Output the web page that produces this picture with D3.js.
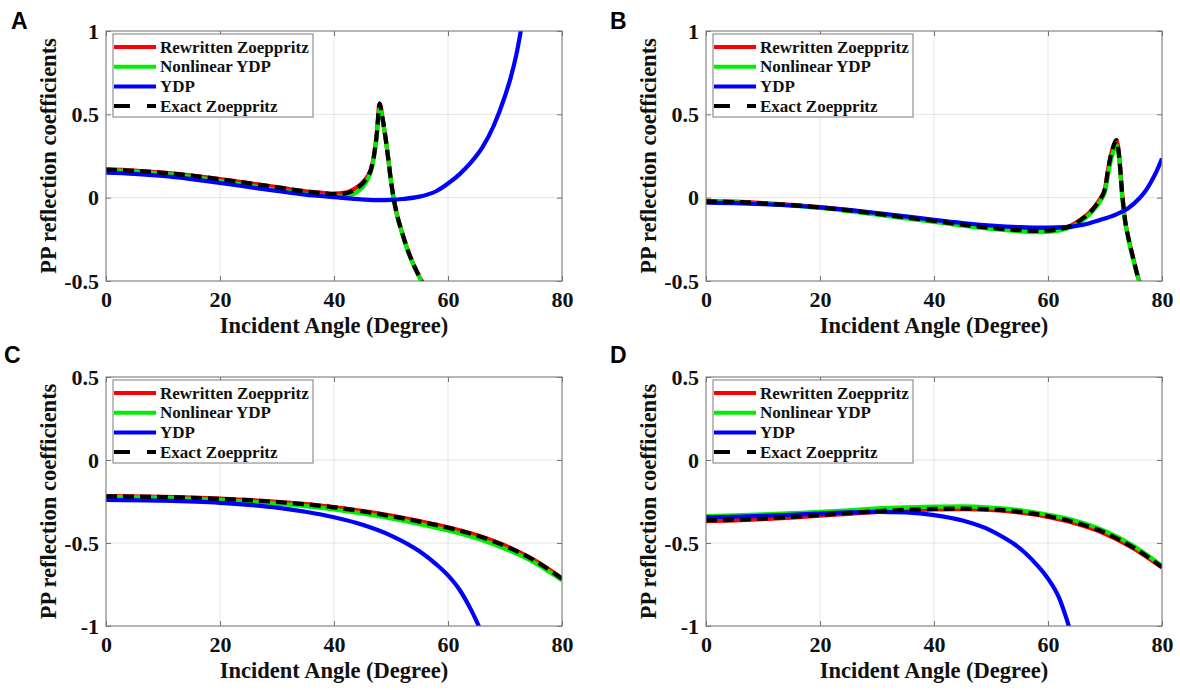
<!DOCTYPE html>
<html><head><meta charset="utf-8">
<script src="https://cdn.jsdelivr.net/npm/d3@7"></script>
<style>body{margin:0;background:#fff}</style>
</head><body><svg id="c" width="1180" height="690"></svg>
<script>
// ---------- data ----------
const seriesNames = ["Rewritten Zoeppritz", "Nonlinear YDP", "YDP", "Exact Zoeppritz"];
const panelLabels = ["A", "B", "C", "D"];
const xTicks = [0, 20, 40, 60, 80];
const yTicksTop = [-0.5, 0, 0.5, 1];
const yTicksBottom = [-1, -0.5, 0, 0.5];
const xLabel = "Incident Angle (Degree)";
const yLabel = "PP reflection coefficients";

// Panel A
const anglesA = [0,5,10,15,20,25,30,35,38,40,42,43,44,45,46,46.5,47,47.5,48,48.5,49,49.5,50,50.5,51,52,53,54,55,56];
const rewrittenA = [0.170,0.163,0.150,0.133,0.112,0.088,0.063,0.038,0.029,0.024,0.030,0.042,0.062,0.090,0.135,0.175,0.25,0.38,0.565,0.48,0.37,0.24,0.10,-0.01,-0.094,-0.215,-0.32,-0.405,-0.475,-0.54];
const nonlinearA = [0.165,0.157,0.143,0.125,0.100,0.073,0.046,0.022,0.011,0.006,0.008,0.015,0.032,0.062,0.115,0.16,0.24,0.37,0.53,0.47,0.365,0.235,0.095,-0.015,-0.10,-0.22,-0.325,-0.41,-0.48,-0.545];
const exactA = [0.168,0.161,0.149,0.132,0.111,0.087,0.062,0.037,0.027,0.022,0.026,0.036,0.056,0.085,0.13,0.17,0.25,0.38,0.565,0.48,0.37,0.24,0.10,-0.01,-0.094,-0.215,-0.32,-0.405,-0.475,-0.54];
const anglesYdpA = [0,5,10,15,20,25,30,35,40,45,48,50,52,55,58,60,62,64,66,68,70,71,72,73,74];
const ydpA = [0.150,0.143,0.130,0.111,0.089,0.064,0.040,0.018,0.003,-0.011,-0.015,-0.013,-0.008,0.006,0.040,0.085,0.14,0.21,0.30,0.43,0.61,0.72,0.86,1.04,1.2];

// Panel B
const anglesB = [0,5,10,15,20,25,30,35,40,45,50,55,58,60,62,64,66,67,68,69,70,70.5,71,71.5,72,72.5,73,73.5,74,74.5,75,75.5,76,76.5];
const rewrittenB = [-0.020,-0.024,-0.032,-0.043,-0.057,-0.075,-0.095,-0.117,-0.138,-0.160,-0.180,-0.193,-0.197,-0.196,-0.187,-0.168,-0.125,-0.098,-0.062,-0.015,0.055,0.16,0.25,0.31,0.345,0.245,0.03,-0.13,-0.225,-0.30,-0.37,-0.44,-0.50,-0.56];
const nonlinearB = [-0.025,-0.028,-0.036,-0.048,-0.062,-0.081,-0.102,-0.124,-0.146,-0.168,-0.188,-0.202,-0.207,-0.205,-0.196,-0.178,-0.138,-0.11,-0.075,-0.03,0.035,0.13,0.22,0.28,0.315,0.225,0.01,-0.14,-0.23,-0.31,-0.38,-0.445,-0.505,-0.565];
const exactB = [-0.022,-0.026,-0.034,-0.045,-0.059,-0.077,-0.097,-0.119,-0.140,-0.162,-0.182,-0.195,-0.199,-0.198,-0.189,-0.170,-0.127,-0.100,-0.064,-0.017,0.053,0.16,0.25,0.31,0.345,0.245,0.03,-0.13,-0.225,-0.30,-0.37,-0.44,-0.50,-0.56];
const anglesYdpB = [0,5,10,15,20,25,30,35,40,45,50,55,60,63,66,69,72,74,76,77,78,79,80];
const ydpB = [-0.030,-0.033,-0.039,-0.047,-0.058,-0.073,-0.092,-0.112,-0.133,-0.152,-0.167,-0.177,-0.180,-0.177,-0.163,-0.135,-0.10,-0.065,-0.005,0.035,0.09,0.155,0.235];

// Panel C
const anglesC = [0,10,20,30,40,50,55,60,65,70,75,80];
const rewrittenC = [-0.218,-0.222,-0.233,-0.252,-0.283,-0.335,-0.368,-0.405,-0.452,-0.515,-0.600,-0.712];
const nonlinearC = [-0.222,-0.228,-0.242,-0.263,-0.298,-0.352,-0.386,-0.425,-0.472,-0.535,-0.615,-0.725];
const exactC = [-0.219,-0.223,-0.234,-0.253,-0.285,-0.338,-0.371,-0.408,-0.455,-0.518,-0.602,-0.715];
const anglesYdpC = [0,10,20,25,30,35,40,45,50,55,58,60,62,64,65,66];
const ydpC = [-0.240,-0.245,-0.258,-0.270,-0.287,-0.312,-0.345,-0.39,-0.455,-0.55,-0.63,-0.695,-0.78,-0.90,-0.97,-1.05];

// Panel D
const anglesD = [0,5,10,15,20,25,30,35,40,45,50,55,60,65,70,75,80];
const rewrittenD = [-0.368,-0.364,-0.357,-0.347,-0.336,-0.324,-0.312,-0.303,-0.298,-0.296,-0.301,-0.316,-0.343,-0.384,-0.444,-0.533,-0.648];
const nonlinearD = [-0.338,-0.333,-0.327,-0.320,-0.313,-0.303,-0.292,-0.285,-0.281,-0.279,-0.286,-0.302,-0.330,-0.367,-0.427,-0.517,-0.638];
const exactD = [-0.364,-0.360,-0.353,-0.343,-0.332,-0.320,-0.308,-0.300,-0.295,-0.293,-0.298,-0.312,-0.338,-0.378,-0.438,-0.528,-0.645];
const anglesYdpD = [0,5,10,15,20,25,30,35,40,45,50,52,54,56,58,60,62,63,64];
const ydpD = [-0.345,-0.342,-0.337,-0.330,-0.323,-0.316,-0.312,-0.316,-0.332,-0.365,-0.425,-0.462,-0.505,-0.56,-0.63,-0.715,-0.835,-0.93,-1.04];

// ---------- layout / style ----------
const colors = ["#ff0000", "#00ee00", "#0000ff", "#000000"];
const serif = "'Liberation Serif','Times New Roman',serif";

const panels = [
  {label: panelLabels[0], lx: 11, ly: 29, left: 106, top: 31, right: 562, bottom: 281, yDomain: [-0.5, 1], yTicks: yTicksTop,
   series: [[anglesA, rewrittenA], [anglesA, nonlinearA], [anglesYdpA, ydpA], [anglesA, exactA]]},
  {label: panelLabels[1], lx: 610, ly: 29, left: 706, top: 31, right: 1162, bottom: 281, yDomain: [-0.5, 1], yTicks: yTicksTop,
   series: [[anglesB, rewrittenB], [anglesB, nonlinearB], [anglesYdpB, ydpB], [anglesB, exactB]]},
  {label: panelLabels[2], lx: 4, ly: 363, left: 106, top: 377, right: 562, bottom: 626, yDomain: [-1, 0.5], yTicks: yTicksBottom,
   series: [[anglesC, rewrittenC], [anglesC, nonlinearC], [anglesYdpC, ydpC], [anglesC, exactC]]},
  {label: panelLabels[3], lx: 610, ly: 363, left: 706, top: 377, right: 1162, bottom: 626, yDomain: [-1, 0.5], yTicks: yTicksBottom,
   series: [[anglesD, rewrittenD], [anglesD, nonlinearD], [anglesYdpD, ydpD], [anglesD, exactD]]}
];

const svg = d3.select("#c");
svg.append("rect").attr("width", 1180).attr("height", 690).attr("fill", "#fff");

panels.forEach((p, pi) => {
  const x = d3.scaleLinear().domain([0, 80]).range([p.left, p.right]);
  const y = d3.scaleLinear().domain(p.yDomain).range([p.bottom, p.top]);
  const g = svg.append("g");

  // panel letter
  svg.append("text").attr("x", p.lx).attr("y", p.ly)
    .attr("font-family", "'Liberation Sans',Arial,sans-serif").attr("font-weight", "bold")
    .attr("font-size", 23).attr("fill", "#000").text(p.label);

  // grid
  g.append("g").selectAll("line").data(xTicks).join("line")
    .attr("x1", d => x(d)).attr("x2", d => x(d)).attr("y1", p.top).attr("y2", p.bottom)
    .attr("stroke", "#e4e4e4").attr("stroke-width", 1);
  g.append("g").selectAll("line").data(p.yTicks).join("line")
    .attr("y1", d => y(d)).attr("y2", d => y(d)).attr("x1", p.left).attr("x2", p.right)
    .attr("stroke", "#e4e4e4").attr("stroke-width", 1);

  // curves
  const clipId = "clip" + pi;
  svg.append("clipPath").attr("id", clipId).append("rect")
    .attr("x", p.left).attr("y", p.top).attr("width", p.right - p.left).attr("height", p.bottom - p.top);
  const line = d3.line().x(d => x(d[0])).y(d => y(d[1])).curve(d3.curveMonotoneX);
  const cg = g.append("g").attr("clip-path", `url(#${clipId})`);
  p.series.forEach((s, si) => {
    const pts = s[0].map((a, i) => [a, s[1][i]]);
    cg.append("path").datum(pts).attr("d", line).attr("fill", "none")
      .attr("stroke", colors[si]).attr("stroke-width", 4.2)
      .attr("stroke-linejoin", "round")
      .attr("stroke-dasharray", si === 3 ? "11,6" : null);
  });

  // axes (ticks inward)
  const fontAttrs = sel => sel.selectAll("text").attr("font-family", serif).attr("font-weight", "bold")
    .attr("font-size", 22).attr("fill", "#111");
  const ax = g.append("g").attr("transform", `translate(0,${p.bottom})`)
    .call(d3.axisBottom(x).tickValues(xTicks).tickSize(-5).tickPadding(10).tickFormat(d3.format("d")));
  fontAttrs(ax);
  const ay = g.append("g").attr("transform", `translate(${p.left},0)`)
    .call(d3.axisLeft(y).tickValues(p.yTicks).tickSize(-5).tickPadding(7).tickFormat(d => String(d)));
  fontAttrs(ay);
  const axt = g.append("g").attr("transform", `translate(0,${p.top})`)
    .call(d3.axisTop(x).tickValues(xTicks).tickSize(-5).tickFormat(""));
  const ayr = g.append("g").attr("transform", `translate(${p.right},0)`)
    .call(d3.axisRight(y).tickValues(p.yTicks).tickSize(-5).tickFormat(""));
  [ax, ay, axt, ayr].forEach(a => {
    a.select(".domain").remove();
    a.selectAll(".tick line").attr("stroke", "#777");
  });
  g.append("rect").attr("x", p.left).attr("y", p.top)
    .attr("width", p.right - p.left).attr("height", p.bottom - p.top)
    .attr("fill", "none").attr("stroke", "#7a7a7a").attr("stroke-width", 1);

  // axis labels
  g.append("text").attr("x", (p.left + p.right) / 2).attr("y", p.bottom + 52)
    .attr("text-anchor", "middle").attr("font-family", serif).attr("font-weight", "bold")
    .attr("font-size", 22.5).attr("fill", "#111").text(xLabel);
  g.append("text")
    .attr("transform", `translate(${p.left - 50},${(p.top + p.bottom) / 2}) rotate(-90)`)
    .attr("text-anchor", "middle").attr("font-family", serif).attr("font-weight", "bold")
    .attr("font-size", 22.5).attr("fill", "#111").text(yLabel);

  // legend
  const lg = g.append("g").attr("transform", `translate(${p.left + 7},${p.top + 3})`);
  lg.append("rect").attr("width", 200).attr("height", 83).attr("fill", "#fff")
    .attr("stroke", "#7a7a7a").attr("stroke-width", 1);
  seriesNames.forEach((name, i) => {
    const yy = 13 + i * 19.7;
    lg.append("line").attr("x1", 1).attr("x2", 43).attr("y1", yy).attr("y2", yy)
      .attr("stroke", colors[i]).attr("stroke-width", 4)
      .attr("stroke-dasharray", i === 3 ? "16,17" : null);
    lg.append("text").attr("x", 47).attr("y", yy).attr("dy", "0.33em")
      .attr("font-family", serif).attr("font-weight", "bold").attr("font-size", 17)
      .attr("fill", "#111").text(name);
  });
});
</script></body></html>
